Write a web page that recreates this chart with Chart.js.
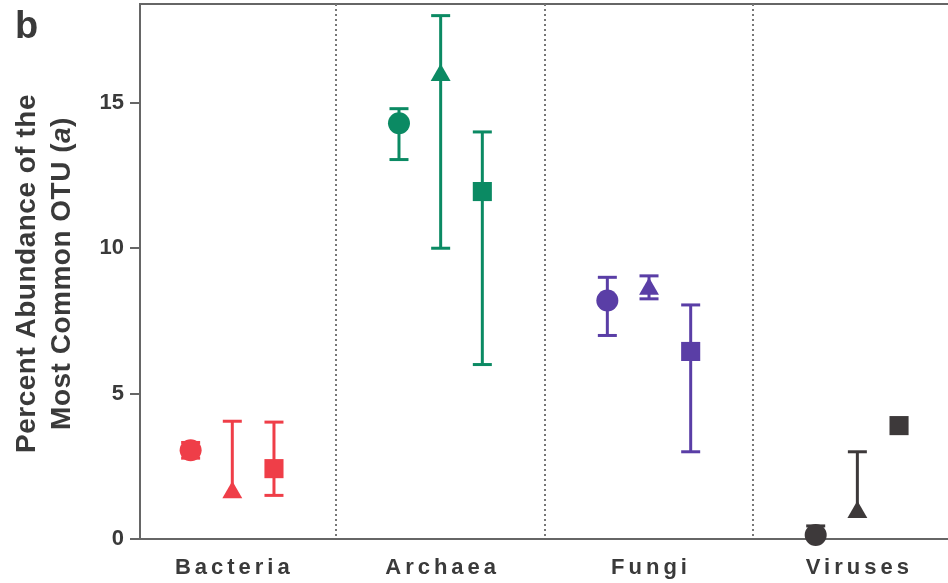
<!DOCTYPE html>
<html>
<head>
<meta charset="utf-8">
<script src="https://cdn.jsdelivr.net/npm/chart.js@4"></script>
<style>
  html, body { margin: 0; padding: 0; background: #fff; }
  canvas { display: block; }
</style>
</head>
<body>
<canvas id="otuChart" width="948" height="583"></canvas>
<script>
// data
const categories = ['Bacteria', 'Archaea', 'Fungi', 'Viruses'];
const yTicks = [0, 5, 10, 15];

const circleMean = [3.05, 14.3, 8.2, 0.14];
const circleLow = [2.78, 13.05, 7.0, 0.14];
const circleHigh = [3.32, 14.8, 9.0, 0.45];

const triangleMean = [1.6, 15.95, 8.6, 0.92];
const triangleLow = [1.6, 10.0, 8.26, 0.92];
const triangleHigh = [4.05, 18.0, 9.05, 3.0];

const squareMean = [2.42, 11.95, 6.45, 3.9];
const squareLow = [1.5, 6.0, 3.0, 3.9];
const squareHigh = [4.02, 14.0, 8.05, 3.9];

const colors = ['#ef3e48', '#0b8a63', '#5a3ea6', '#3d393a'];
const textColor = '#3a3a3a';
const axisColor = '#666';
const fontFamily = '"Liberation Sans", Arial, Helvetica, sans-serif';

const groups = [
    { style: 'circle', radius: 11, offset: -0.2, mean: circleMean, low: circleLow, high: circleHigh },
    { style: 'triangle', radius: 11.5, offset: 0, mean: triangleMean, low: triangleLow, high: triangleHigh },
    { style: 'rect', radius: 13.5, offset: 0.2, mean: squareMean, low: squareLow, high: squareHigh }
];

const canvas = document.getElementById('otuChart');
const ctx = canvas.getContext('2d');

const chart = new Chart(ctx, {
    type: 'scatter',
    data: {
        datasets: groups.map(g => ({
            label: g.style,
            data: categories.map((c, i) => ({ x: i + 1 + g.offset, y: g.mean[i] })),
            pointStyle: g.style,
            pointRadius: g.radius,
            pointBackgroundColor: colors,
            pointBorderColor: colors,
            pointBorderWidth: 0,
            clip: false
        }))
    },
    options: {
        responsive: false,
        animation: false,
        events: [],
        layout: {
            autoPadding: false,
            padding: { top: 4, right: 0, bottom: 0, left: 0 }
        },
        scales: {
            x: {
                type: 'linear',
                min: 0.557,
                max: 4.435,
                afterFit: (scale) => {
                    scale.height = 44;
                    scale.paddingLeft = 0;
                    scale.paddingRight = 0;
                },
                ticks: { display: false },
                grid: { display: false },
                border: { display: true, color: axisColor, width: 2 }
            },
            y: {
                type: 'linear',
                min: 0,
                max: 18.4,
                afterFit: (scale) => {
                    scale.width = 140;
                    scale.paddingTop = 0;
                    scale.paddingBottom = 0;
                },
                afterBuildTicks: (scale) => {
                    scale.ticks = yTicks.map(v => ({ value: v }));
                },
                ticks: {
                    color: textColor,
                    padding: 6,
                    font: { family: fontFamily, size: 22, weight: 'bold' }
                },
                grid: {
                    drawOnChartArea: false,
                    drawTicks: true,
                    tickLength: 10,
                    color: axisColor,
                    lineWidth: 2
                },
                border: { display: true, color: axisColor, width: 2 }
            }
        },
        plugins: {
            legend: { display: false },
            tooltip: { enabled: false }
        }
    },
    plugins: [{
        id: 'frameAndErrors',
        beforeDatasetsDraw: (chart) => {
            const c = chart.ctx;
            const area = chart.chartArea;
            const xs = chart.scales.x;
            const ys = chart.scales.y;

            // top frame line
            c.save();
            c.strokeStyle = axisColor;
            c.lineWidth = 2;
            c.beginPath();
            c.moveTo(area.left, area.top);
            c.lineTo(area.right, area.top);
            c.stroke();

            // dotted separators between groups
            c.setLineDash([2, 3]);
            c.lineWidth = 2;
            c.strokeStyle = '#777';
            for (let i = 1; i < categories.length; i++) {
                const px = Math.round(xs.getPixelForValue(i + 0.5));
                c.beginPath();
                c.moveTo(px, area.top);
                c.lineTo(px, area.bottom);
                c.stroke();
            }
            c.restore();

            // error bars
            c.save();
            c.lineWidth = 3;
            groups.forEach(g => {
                categories.forEach((cat, i) => {
                    const px = xs.getPixelForValue(i + 1 + g.offset);
                    const yHi = ys.getPixelForValue(g.high[i]);
                    const yLo = ys.getPixelForValue(g.low[i]);
                    c.strokeStyle = colors[i];
                    c.beginPath();
                    c.moveTo(px, yHi);
                    c.lineTo(px, yLo);
                    c.stroke();
                    const half = 9.5;
                    if (g.high[i] !== g.mean[i]) {
                        c.beginPath();
                        c.moveTo(px - half, yHi);
                        c.lineTo(px + half, yHi);
                        c.stroke();
                    }
                    if (g.low[i] !== g.mean[i]) {
                        c.beginPath();
                        c.moveTo(px - half, yLo);
                        c.lineTo(px + half, yLo);
                        c.stroke();
                    }
                });
            });
            c.restore();
        },
        afterDraw: (chart) => {
            const c = chart.ctx;
            const area = chart.chartArea;
            const xs = chart.scales.x;

            // category labels
            c.save();
            c.fillStyle = textColor;
            c.font = 'bold 22px ' + fontFamily;
            c.letterSpacing = '4px';
            c.textAlign = 'center';
            c.textBaseline = 'alphabetic';
            categories.forEach((cat, i) => {
                c.fillText(cat, xs.getPixelForValue(i + 1) + 2, area.bottom + 35);
            });
            c.restore();

            // panel letter
            c.save();
            c.fillStyle = textColor;
            c.font = 'bold 38px ' + fontFamily;
            c.textAlign = 'left';
            c.fillText('b', 15, 38);
            c.restore();

            // y axis title, two lines, "a" in italic
            const midY = (area.top + area.bottom) / 2 + 2;
            c.save();
            c.fillStyle = textColor;
            c.letterSpacing = '0.5px';
            c.textBaseline = 'middle';
            c.translate(27, midY);
            c.rotate(-Math.PI / 2);
            c.font = 'bold 28px ' + fontFamily;
            c.textAlign = 'center';
            c.fillText('Percent Abundance of the', 0, 0);
            c.restore();

            c.save();
            c.fillStyle = textColor;
            c.letterSpacing = '0.5px';
            c.textBaseline = 'middle';
            c.translate(62, midY);
            c.rotate(-Math.PI / 2);
            const parts = [
                { t: 'Most Common OTU (', f: 'bold 28px ' + fontFamily },
                { t: 'a', f: 'italic bold 28px ' + fontFamily },
                { t: ')', f: 'bold 28px ' + fontFamily }
            ];
            let total = 0;
            parts.forEach(p => { c.font = p.f; p.w = c.measureText(p.t).width; total += p.w; });
            let x = -total / 2;
            c.textAlign = 'left';
            parts.forEach(p => { c.font = p.f; c.fillText(p.t, x, 0); x += p.w; });
            c.restore();
        }
    }]
});
</script>
</body>
</html>
